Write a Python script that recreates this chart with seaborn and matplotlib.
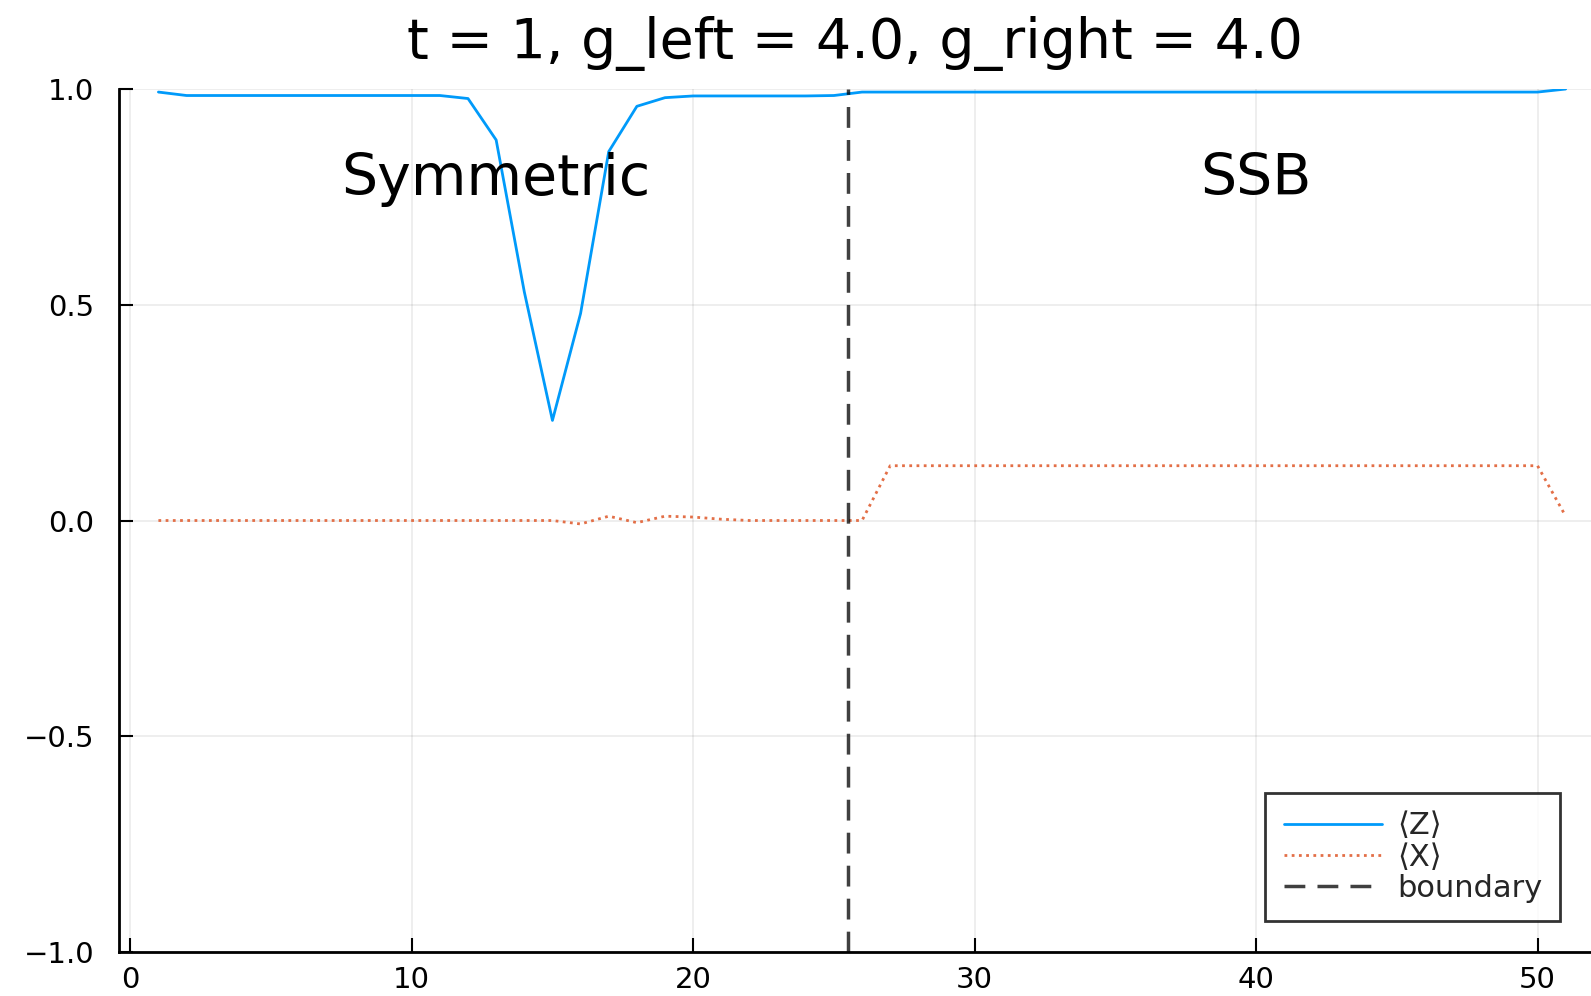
import numpy as np
import pandas as pd
import seaborn as sns
import matplotlib.pyplot as plt

# site index 1..51
sites = list(range(1, 52))

# <Z> per site
z_vals = [0.993, 0.985, 0.985, 0.985, 0.985, 0.985, 0.985, 0.985, 0.985, 0.985,
          0.985, 0.978, 0.882, 0.53, 0.232, 0.48, 0.855, 0.96, 0.98, 0.984,
          0.984, 0.984, 0.984, 0.984, 0.985, 0.993, 0.993, 0.993, 0.993, 0.993,
          0.993, 0.993, 0.993, 0.993, 0.993, 0.993, 0.993, 0.993, 0.993, 0.993,
          0.993, 0.993, 0.993, 0.993, 0.993, 0.993, 0.993, 0.993, 0.993, 0.993,
          1.0]

# <X> per site
x_vals = [0.0, 0.0, 0.0, 0.0, 0.0, 0.0, 0.0, 0.0, 0.0, 0.0,
          0.0, 0.0, 0.0, 0.0, 0.0, -0.008, 0.01, -0.005, 0.01, 0.008,
          0.003, 0.0, 0.0, 0.0, 0.0, 0.0, 0.127, 0.127, 0.127, 0.127,
          0.127, 0.127, 0.127, 0.127, 0.127, 0.127, 0.127, 0.127, 0.127, 0.127,
          0.127, 0.127, 0.127, 0.127, 0.127, 0.127, 0.127, 0.127, 0.127, 0.127,
          0.01]

boundary = 25.5
title = "t = 1, g_left = 4.0, g_right = 4.0"
labels = ["⟨Z⟩", "⟨X⟩", "boundary"]
regions = [("Symmetric", 13, 0.79), ("SSB", 40, 0.79)]

x_ticks = [0, 10, 20, 30, 40, 50]
y_ticks = [-1.0, -0.5, 0.0, 0.5, 1.0]

sns.set_theme(style="white")
plt.rcParams['font.family'] = ['DejaVu Sans']

df = pd.DataFrame({"site": sites, "Z": z_vals, "X": x_vals})

fig = plt.figure(figsize=(15.91, 9.96), dpi=100)
ax = fig.add_axes([0.0748, 0.0442, 0.9252, 0.8664])

sns.lineplot(data=df, x="site", y="Z", ax=ax, color="#009AFA", lw=2, label=labels[0])
sns.lineplot(data=df, x="site", y="X", ax=ax, color="#E36F47", lw=2,
             linestyle=(0, (1, 1.6)), label=labels[1])
ax.axvline(boundary, color="black", alpha=0.75, lw=2.5, linestyle=(0, (6, 3.5)),
           label=labels[2])

for txt, xx, yy in regions:
    ax.text(xx, yy, txt, ha="center", va="center", fontsize=41, color="black")

ax.set_xlim(-0.4, 51.9)
ax.set_ylim(-1.0, 1.0)
ax.set_xticks(x_ticks)
ax.set_yticks(y_ticks)
ax.set_xticklabels([str(t) for t in x_ticks])
ax.set_yticklabels([f"{t:.1f}".replace("-", "\u2212") for t in y_ticks])
ax.tick_params(axis="both", direction="in", length=10, width=1.5, labelsize=21,
               colors="black", bottom=True, left=True)
ax.tick_params(axis="y", pad=18)
ax.tick_params(axis="x", pad=10)
ax.grid(True, color="black", alpha=0.08, lw=1.2)
ax.set_xlabel("")
ax.set_ylabel("")
ax.set_title(title, fontsize=40, pad=22, color="black")

sns.despine(ax=ax)
for s in ["left", "bottom"]:
    ax.spines[s].set_color("black")
    ax.spines[s].set_linewidth(2)

leg = ax.legend(loc="lower right", fontsize=22, handlelength=3.2, frameon=True,
                fancybox=False, borderaxespad=1.0, labelspacing=0.08,
                handletextpad=0.5, borderpad=0.6)
leg.get_frame().set_edgecolor("black")
leg.get_frame().set_linewidth(2)

fig.savefig("out.png", dpi=100)
